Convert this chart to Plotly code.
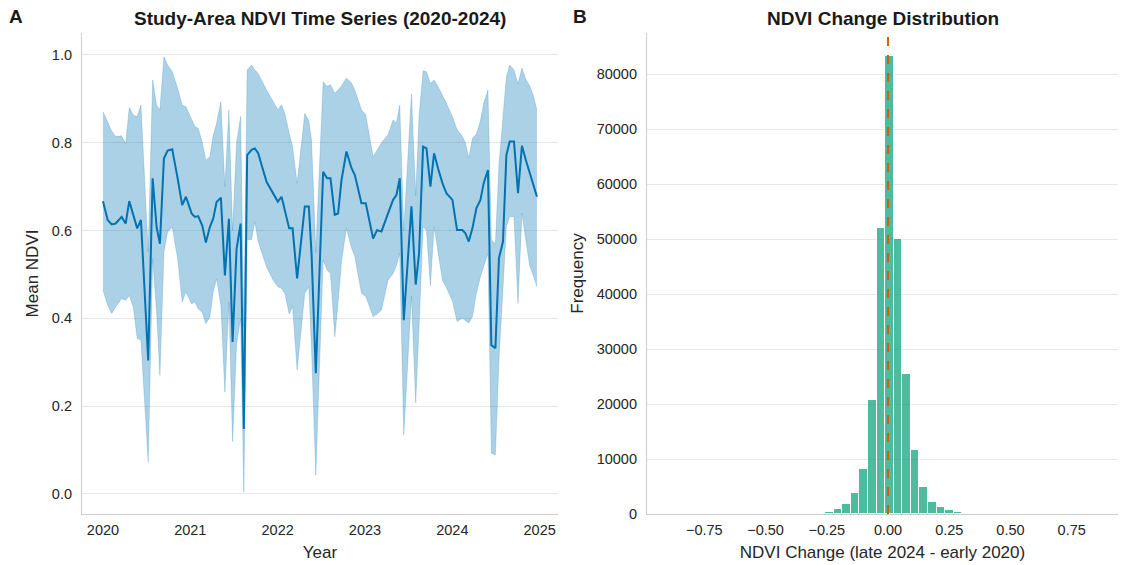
import numpy as np
import plotly.graph_objects as go

# ---------------- Panel A: study-area NDVI time series ----------------
decimal_year = [
    2020.000, 2020.054, 2020.100, 2020.145, 2020.214, 2020.260, 2020.301, 2020.347,
    2020.392, 2020.435, 2020.518, 2020.569, 2020.614, 2020.652, 2020.698, 2020.740,
    2020.793, 2020.855, 2020.907, 2020.950, 2021.015, 2021.053, 2021.090, 2021.136,
    2021.178, 2021.224, 2021.262, 2021.301, 2021.350, 2021.396, 2021.442, 2021.484,
    2021.530, 2021.576, 2021.613, 2021.651, 2021.701, 2021.739, 2021.777, 2021.873,
    2021.949, 2022.002, 2022.045, 2022.082, 2022.132, 2022.171, 2022.223, 2022.311,
    2022.357, 2022.388, 2022.437, 2022.521, 2022.566, 2022.605, 2022.654, 2022.692,
    2022.731, 2022.788, 2022.846, 2022.883, 2022.960, 2023.009, 2023.093, 2023.138,
    2023.189, 2023.264, 2023.322, 2023.360, 2023.398, 2023.444, 2023.532, 2023.581,
    2023.619, 2023.665, 2023.704, 2023.749, 2023.791, 2023.836, 2023.887, 2023.932,
    2024.001, 2024.054, 2024.116, 2024.150, 2024.188, 2024.230, 2024.276, 2024.322,
    2024.359, 2024.408, 2024.447, 2024.493, 2024.534, 2024.580, 2024.619, 2024.657,
    2024.706, 2024.752, 2024.797, 2024.840, 2024.886, 2024.923, 2024.969,
]

mean_ndvi = [
    0.667, 0.624, 0.614, 0.616, 0.631, 0.616, 0.667, 0.635,
    0.605, 0.624, 0.304, 0.719, 0.608, 0.570, 0.764, 0.782,
    0.785, 0.719, 0.658, 0.677, 0.639, 0.631, 0.633, 0.612,
    0.573, 0.608, 0.627, 0.665, 0.675, 0.498, 0.627, 0.346,
    0.559, 0.616, 0.148, 0.772, 0.784, 0.787, 0.776, 0.711,
    0.685, 0.666, 0.677, 0.647, 0.605, 0.605, 0.491, 0.655,
    0.655, 0.548, 0.275, 0.734, 0.719, 0.719, 0.636, 0.639,
    0.715, 0.780, 0.742, 0.727, 0.662, 0.662, 0.582, 0.601,
    0.598, 0.639, 0.670, 0.681, 0.719, 0.396, 0.655, 0.477,
    0.548, 0.791, 0.787, 0.700, 0.776, 0.742, 0.708, 0.685,
    0.670, 0.601, 0.601, 0.594, 0.575, 0.605, 0.651, 0.670,
    0.708, 0.738, 0.339, 0.332, 0.537, 0.575, 0.772, 0.803,
    0.803, 0.685, 0.793, 0.762, 0.731, 0.708, 0.677,
]

ndvi_upper = [
    0.871, 0.848, 0.827, 0.814, 0.816, 0.798, 0.880, 0.863,
    0.859, 0.886, 0.551, 0.943, 0.886, 0.875, 0.996, 0.977,
    0.962, 0.924, 0.886, 0.882, 0.856, 0.837, 0.833, 0.802,
    0.760, 0.768, 0.817, 0.844, 0.894, 0.700, 0.875, 0.600,
    0.800, 0.860, 0.380, 0.966, 0.977, 0.966, 0.958, 0.920,
    0.894, 0.875, 0.886, 0.867, 0.822, 0.791, 0.708, 0.867,
    0.850, 0.806, 0.550, 0.939, 0.928, 0.932, 0.913, 0.920,
    0.930, 0.947, 0.936, 0.920, 0.875, 0.863, 0.768, 0.783,
    0.800, 0.818, 0.852, 0.845, 0.886, 0.600, 0.911, 0.680,
    0.860, 0.964, 0.962, 0.935, 0.943, 0.928, 0.909, 0.890,
    0.860, 0.830, 0.814, 0.800, 0.765, 0.810, 0.820, 0.850,
    0.890, 0.920, 0.579, 0.570, 0.750, 0.870, 0.950, 0.977,
    0.966, 0.935, 0.970, 0.945, 0.930, 0.910, 0.875,
]

ndvi_lower = [
    0.464, 0.430, 0.411, 0.426, 0.445, 0.441, 0.452, 0.426,
    0.355, 0.350, 0.072, 0.536, 0.414, 0.270, 0.551, 0.597,
    0.608, 0.536, 0.437, 0.460, 0.433, 0.437, 0.422, 0.414,
    0.388, 0.403, 0.460, 0.490, 0.430, 0.232, 0.437, 0.119,
    0.342, 0.399, 0.004, 0.579, 0.579, 0.620, 0.575, 0.517,
    0.487, 0.472, 0.468, 0.457, 0.410, 0.427, 0.282, 0.457,
    0.472, 0.330, 0.043, 0.533, 0.510, 0.502, 0.358, 0.434,
    0.530, 0.605, 0.560, 0.541, 0.457, 0.450, 0.404, 0.410,
    0.419, 0.487, 0.502, 0.520, 0.548, 0.134, 0.450, 0.207,
    0.380, 0.609, 0.600, 0.474, 0.609, 0.548, 0.487, 0.470,
    0.440, 0.393, 0.400, 0.395, 0.389, 0.404, 0.457, 0.495,
    0.520, 0.548, 0.093, 0.089, 0.305, 0.480, 0.609, 0.632,
    0.632, 0.434, 0.640, 0.580, 0.520, 0.500, 0.472,
]

year_ticks = [2020, 2021, 2022, 2023, 2024, 2025]
ndvi_ticks = [0.0, 0.2, 0.4, 0.6, 0.8, 1.0]

# ---------------- Panel B: NDVI change histogram ----------------
bin_width = 0.035
first_bin_center = -0.344
change_counts = [
    20, 60, 150, 430, 850, 1820, 3770, 8200, 20700, 52000,
    83300,
    50000, 25500, 11600, 4900, 2200, 1200, 650, 350, 150, 50,
]
change_ticks = [-0.75, -0.50, -0.25, 0.00, 0.25, 0.50, 0.75]
freq_ticks = [0, 10000, 20000, 30000, 40000, 50000, 60000, 70000, 80000]

bin_centers = first_bin_center + bin_width * np.arange(len(change_counts))

# ---------------- styling ----------------
FONT = "Liberation Sans, Arial, sans-serif"
TXT = "#262626"
BLUE = "#0173b2"
GREEN = "rgba(2,158,115,0.70)"
ORANGE = "#d55e00"
SPINE = "#cccccc"
GRID = "#e6e6e6"

W, H = 1121, 565
left_dom = [82 / W, 558 / W]
right_dom = [647 / W, 1118 / W]
y_dom = [1 - 514 / H, 1 - 33 / H]

fig = go.Figure()

fig.add_trace(go.Scatter(
    x=decimal_year, y=ndvi_upper, mode="lines",
    line=dict(color="rgba(1,115,178,0.25)", width=0.8),
    hoverinfo="skip", showlegend=False, xaxis="x", yaxis="y",
))
fig.add_trace(go.Scatter(
    x=decimal_year, y=ndvi_lower, mode="lines",
    line=dict(color="rgba(1,115,178,0.25)", width=0.8),
    fill="tonexty", fillcolor="rgba(1,115,178,0.33)",
    hoverinfo="skip", showlegend=False, xaxis="x", yaxis="y",
))
fig.add_trace(go.Scatter(
    x=decimal_year, y=mean_ndvi, mode="lines",
    line=dict(color=BLUE, width=2),
    showlegend=False, xaxis="x", yaxis="y",
))

fig.add_trace(go.Bar(
    x=bin_centers, y=change_counts, width=bin_width,
    marker=dict(color=GREEN, line=dict(color="white", width=1)),
    showlegend=False, xaxis="x2", yaxis="y2",
))

fig.add_shape(
    type="line", xref="x2", yref="y2 domain", x0=0, x1=0, y0=0, y1=1,
    line=dict(color=ORANGE, width=2, dash="dash"), layer="above",
)

axis_common = dict(
    showline=True, linecolor=SPINE, linewidth=1.2, ticks="", zeroline=False,
    automargin=False,
    tickfont=dict(family=FONT, size=14.5, color=TXT),
    title_font=dict(family=FONT, size=17, color=TXT),
)

fig.update_layout(
    width=W, height=H,
    margin=dict(l=0, r=0, t=0, b=0),
    paper_bgcolor="white", plot_bgcolor="white",
    font=dict(family=FONT, color=TXT),
    bargap=0,
    xaxis=dict(
        domain=left_dom, anchor="y", range=[2019.76, 2025.21],
        tickvals=year_ticks, ticktext=[str(t) for t in year_ticks],
        showgrid=False, ticklabelstandoff=2,
        title=dict(text="Year", standoff=9), **axis_common,
    ),
    yaxis=dict(
        domain=y_dom, anchor="x", range=[-0.0456, 1.05],
        tickvals=ndvi_ticks, ticktext=[f"{t:.1f}" for t in ndvi_ticks],
        showgrid=True, gridcolor=GRID, gridwidth=1, ticklabelstandoff=6,
        title=dict(text="Mean NDVI", standoff=8), **axis_common,
    ),
    xaxis2=dict(
        domain=right_dom, anchor="y2", range=[-0.984, 0.939],
        tickvals=change_ticks,
        ticktext=[f"{t:.2f}".replace("-", "\u2212") for t in change_ticks],
        showgrid=False, ticklabelstandoff=2,
        title=dict(text="NDVI Change (late 2024 - early 2020)", standoff=9),
        **axis_common,
    ),
    yaxis2=dict(
        domain=y_dom, anchor="x2", range=[0, 87500],
        tickvals=freq_ticks, ticktext=[str(t) for t in freq_ticks],
        showgrid=True, gridcolor=GRID, gridwidth=1, ticklabelstandoff=6,
        title=dict(text="Frequency", standoff=8), **axis_common,
    ),
)

title_font = dict(family=FONT, size=19, color="#1a1a1a")
annotations = [
    dict(text="<b>Study-Area NDVI Time Series (2020-2024)</b>",
         x=(left_dom[0] + left_dom[1]) / 2, y=1 - 18 / H),
    dict(text="<b>NDVI Change Distribution</b>",
         x=(right_dom[0] + right_dom[1]) / 2, y=1 - 18 / H),
    dict(text="<b>A</b>", x=16 / W, y=1 - 17 / H),
    dict(text="<b>B</b>", x=580 / W, y=1 - 17 / H),
]
for a in annotations:
    fig.add_annotation(
        xref="paper", yref="paper", showarrow=False,
        xanchor="center", yanchor="middle", font=title_font, **a,
    )

fig.write_html("out.html")
